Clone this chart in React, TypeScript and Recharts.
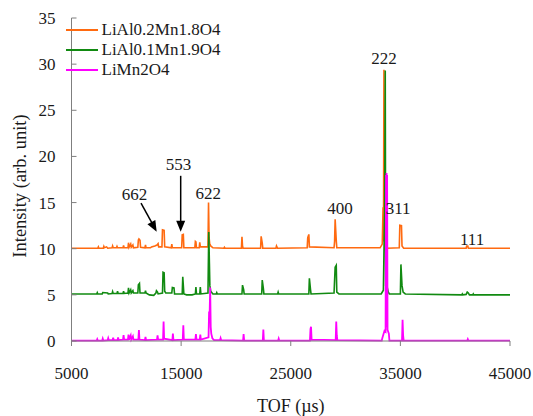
import React from "react";
import {
  LineChart,
  Line,
  XAxis,
  YAxis,
  Legend,
  ReferenceDot,
  ReferenceLine,
  Label,
} from "recharts";

const FONT = "Liberation Serif, Tinos, DejaVu Serif, serif";

const xTicks = [5000, 15000, 25000, 35000, 45000];
const yTicks = [0, 5, 10, 15, 20, 25, 30, 35];

// TOF (µs), intensity, offsets already included
const alPoint2: [number, number][] = [
  [5000, 10.05], [7000, 10.05],
  [7400, 10.05], [7450, 10.2], [7500, 10.05],
  [7900, 10.05], [7950, 10.25], [8000, 10.1], [8200, 10.2], [8300, 10.05],
  [8700, 10.1], [8750, 10.3], [8800, 10.1],
  [9100, 10.1], [9150, 10.25], [9200, 10.1],
  [9700, 10.1], [9750, 10.35], [9800, 10.1],
  [10150, 10.1], [10200, 10.65], [10250, 10.15], [10400, 10.5], [10450, 10.15], [10600, 10.4], [10650, 10.1],
  [11050, 10.15], [11100, 10.95], [11150, 11.05], [11250, 10.9], [11300, 10.15],
  [11700, 10.1], [11750, 10.4], [11800, 10.1],
  [12200, 10.1], [12300, 10.2], [12600, 10.3], [12800, 10.4], [12900, 10.55], [12950, 10.2],
  [13250, 10.2], [13300, 12.05], [13450, 12.0], [13500, 10.2],
  [14100, 10.1], [14150, 10.5], [14200, 10.1],
  [15050, 10.1], [15100, 11.5], [15200, 11.55], [15250, 10.1],
  [16250, 10.1], [16300, 10.8], [16350, 10.75], [16400, 10.1],
  [16650, 10.1], [16700, 10.7], [16750, 10.2],
  [17450, 10.2], [17500, 15.0], [17550, 11.2], [17600, 10.6], [17700, 10.3], [17900, 10.1],
  [18900, 10.05], [18950, 10.15], [19000, 10.05],
  [20500, 10.05], [20550, 11.3], [20600, 10.3], [20650, 10.05],
  [22250, 10.05], [22300, 11.35], [22400, 10.6], [22450, 10.05],
  [23650, 10.05], [23700, 10.3], [23800, 10.05],
  [26500, 10.1], [26550, 11.2], [26650, 11.55], [26700, 10.2],
  [28950, 10.1], [29000, 10.8], [29050, 13.2], [29150, 10.9], [29200, 10.1],
  [33150, 10.1], [33350, 10.5], [33420, 14.5], [33460, 10.8], [33500, 29.4], [33540, 10.8], [33700, 10.3], [33800, 10.05],
  [34900, 10.1], [34950, 12.55], [35100, 12.5], [35150, 10.3], [35300, 10.05],
  [41000, 10.05], [41050, 10.3], [41150, 10.3], [41200, 10.05],
  [45000, 10.05],
];

const alPoint1: [number, number][] = [
  [5000, 5.1], [7300, 5.1], [7350, 5.25], [7400, 5.1], [7800, 5.1], [7850, 5.25], [8300, 5.2], [8350, 5.1],
  [8700, 5.15], [8750, 5.35], [8800, 5.15], [9150, 5.15], [9200, 5.4], [9250, 5.15],
  [9700, 5.15], [9750, 5.4], [9800, 5.15],
  [10150, 5.2], [10200, 5.75], [10250, 5.2], [10400, 5.55], [10450, 5.2], [10600, 5.45], [10650, 5.2],
  [11050, 5.2], [11100, 6.1], [11200, 6.25], [11250, 5.2],
  [11700, 5.2], [11750, 5.45], [11800, 5.2],
  [12100, 5.0], [12500, 4.95], [12700, 5.2], [12750, 5.45], [12850, 5.3], [12900, 5.1],
  [13300, 5.2], [13350, 7.45], [13450, 7.4], [13500, 5.4], [13600, 5.2],
  [14150, 5.2], [14200, 5.8], [14350, 5.75], [14400, 5.1],
  [15100, 5.1], [15150, 6.95], [15250, 5.1],
  [15500, 5.0], [16000, 5.0],
  [16300, 5.1], [16350, 5.85], [16400, 5.1],
  [16700, 5.1], [16750, 5.85], [16800, 5.1],
  [17450, 5.2], [17520, 11.8], [17580, 8.4], [17620, 6.0], [17700, 5.4], [17900, 5.1],
  [18200, 5.1], [18250, 5.25], [18300, 5.1],
  [20550, 5.1], [20600, 6.05], [20700, 5.6], [20750, 5.1],
  [22350, 5.1], [22400, 6.6], [22500, 5.7], [22550, 5.1],
  [23800, 5.1], [23850, 5.3], [23900, 5.1],
  [26650, 5.1], [26700, 6.8], [26800, 5.6], [26850, 5.1],
  [28950, 5.2], [29050, 8.0], [29150, 8.2], [29200, 5.3], [29400, 5.1],
  [33250, 5.1], [33450, 5.5], [33560, 14.0], [33620, 29.3], [33660, 6.0], [33800, 5.8], [33900, 5.3], [34000, 5.1],
  [35000, 5.1], [35050, 8.3], [35150, 6.0], [35250, 5.3], [35450, 5.1],
  [40600, 5.0], [40650, 5.1], [40700, 5.0], [41000, 5.05], [41100, 5.3], [41200, 5.2], [41300, 5.0],
  [41600, 5.0], [41650, 5.1], [41700, 5.0],
  [45000, 5.0],
];

const mn2: [number, number][] = [
  [5000, 0.05], [7300, 0.05], [7350, 0.2], [7400, 0.05], [7800, 0.05], [7850, 0.25], [7900, 0.05],
  [8300, 0.1], [8350, 0.3], [8400, 0.1], [8750, 0.1], [8800, 0.35], [8850, 0.1],
  [9200, 0.1], [9250, 0.4], [9300, 0.1],
  [9700, 0.15], [9750, 0.65], [9800, 0.15],
  [10150, 0.15], [10200, 0.7], [10250, 0.15], [10400, 0.6], [10450, 0.15], [10600, 0.5], [10650, 0.15],
  [11100, 0.15], [11150, 1.2], [11200, 0.15],
  [11700, 0.1], [11750, 0.45], [11800, 0.1],
  [12800, 0.15], [12850, 0.6], [12900, 0.15],
  [13350, 0.15], [13400, 2.1], [13450, 0.25],
  [14200, 0.1], [14250, 0.8], [14300, 0.1],
  [15150, 0.15], [15200, 1.7], [15250, 0.15],
  [16300, 0.15], [16350, 0.75], [16400, 0.15],
  [16700, 0.15], [16750, 0.7], [16800, 0.15],
  [17500, 0.4], [17550, 3.2], [17600, 3.0], [17650, 5.8], [17700, 1.5], [17750, 0.8], [17850, 0.3], [18000, 0.1],
  [18550, 0.1], [18600, 0.3], [18650, 0.1],
  [20650, 0.05], [20700, 0.75], [20750, 0.05],
  [22450, 0.05], [22500, 1.25], [22550, 0.05],
  [23850, 0.05], [23900, 0.25], [23950, 0.05],
  [26750, 0.05], [26800, 1.3], [26850, 1.55], [26900, 0.15],
  [29100, 0.1], [29150, 2.1], [29200, 0.6], [29250, 0.1],
  [33300, 0.05], [33350, 0.3], [33550, 1.1], [33650, 1.0],
  [33690, 18.0], [33720, 1.5], [33740, 18.2], [33770, 1.5], [33790, 18.0], [33830, 1.2],
  [33950, 0.8], [34000, 0.05],
  [35150, 0.05], [35200, 2.3], [35250, 0.6], [35300, 0.05],
  [41100, 0.05], [41150, 0.2], [41200, 0.05],
  [45000, 0.05],
];

const peakLabels: { t: number; v: number; text: string }[] = [
  { t: 10740, v: 15.97, text: "662" },
  { t: 14770, v: 19.2, text: "553" },
  { t: 17470, v: 16.05, text: "622" },
  { t: 29500, v: 14.44, text: "400" },
  { t: 33510, v: 30.64, text: "222" },
  { t: 34790, v: 14.44, text: "311" },
  { t: 41540, v: 11.07, text: "111" },
];

const toRows = (pts: [number, number][]) => pts.map(([t, v]) => ({ t, v }));

const series = [
  { name: "LiAl0.2Mn1.8O4", color: "#ff6a10", width: 1.6, data: toRows(alPoint2) },
  { name: "LiAl0.1Mn1.9O4", color: "#118a11", width: 1.6, data: toRows(alPoint1) },
  { name: "LiMn2O4", color: "#ff00ff", width: 1.8, data: toRows(mn2) },
];

const YTick = (props: any) => {
  const { x, y, payload } = props;
  return (
    <g>
      <line x1={x + 16} x2={x + 21} y1={y} y2={y} stroke="#7f7f7f" />
      <text x={x} y={y} dy="0.35em" textAnchor="end" fill="#1a1a1a" fontSize={17} style={{ fontFamily: FONT }}>
        {payload.value}
      </text>
    </g>
  );
};

const LegendBox = () => (
  <div style={{ fontFamily: FONT, fontSize: 17, color: "#1a1a1a" }}>
    {series.map((s) => (
      <div key={s.name} style={{ display: "flex", alignItems: "center", height: 20.2 }}>
        <span style={{ display: "inline-block", width: 32, height: 2, background: s.color, marginRight: 3.5 }} />
        <span>{s.name}</span>
      </div>
    ))}
  </div>
);

const arrowHead = (angle: number) => (p: any) => (
  <polygon
    points="0,0 -11,-4.5 -11,4.5"
    fill="#000"
    transform={`translate(${p.cx},${p.cy}) rotate(${angle})`}
  />
);

export default function App() {
  return (
    <div style={{ position: "absolute", left: 0, top: 0, width: 533, height: 416, background: "#fff", fontFamily: FONT }}>
      <LineChart width={533} height={416} margin={{ top: 18, right: 23, bottom: 30, left: 11.5 }}>
        <XAxis
          dataKey="t"
          type="number"
          domain={[5000, 45000]}
          ticks={xTicks}
          allowDataOverflow
          height={45}
          stroke="#7f7f7f"
          tickSize={5}
          tickMargin={21}
          tick={{ fill: "#1a1a1a", fontSize: 17, style: { fontFamily: FONT } }}
        >
          <Label value="TOF (µs)" position="bottom" offset={13} fill="#1a1a1a" fontSize={18} style={{ fontFamily: FONT }} />
        </XAxis>
        <YAxis
          type="number"
          domain={[0, 35]}
          ticks={yTicks}
          width={60}
          stroke="#7f7f7f"
          tickLine={false}
          tickSize={0}
          tickMargin={16}
          tick={YTick}
        >
          <Label
            content={(p: any) => {
              const vb = p.viewBox;
              const cx = vb.x + 8.5;
              const cy = vb.y + vb.height / 2 + 6.5;
              return (
                <text
                  x={cx}
                  y={cy}
                  dy="0.35em"
                  textAnchor="middle"
                  transform={`rotate(-90, ${cx}, ${cy})`}
                  fill="#1a1a1a"
                  fontSize={18.5}
                  style={{ fontFamily: FONT }}
                >
                  Intensity (arb. unit)
                </text>
              );
            }}
          />
        </YAxis>
        <Legend
          layout="vertical"
          align="center"
          verticalAlign="middle"
          content={() => <LegendBox />}
          wrapperStyle={{ top: 19.6, left: 66, width: "auto" }}
        />
        {peakLabels.map((l) => (
          <ReferenceDot
            key={l.text}
            x={l.t}
            y={l.v}
            r={0}
            shape={(p: any) => (
              <text x={p.cx} y={p.cy} dy="0.35em" textAnchor="middle" fill="#1a1a1a" fontSize={17} style={{ fontFamily: FONT }}>
                {l.text}
              </text>
            )}
          />
        ))}
        <ReferenceLine segment={[{ x: 11340, y: 14.95 }, { x: 12510, y: 12.43 }]} stroke="#000" strokeWidth={1.5} />
        <ReferenceDot x={12770} y={11.83} r={0} shape={arrowHead(61.3)} />
        <ReferenceLine segment={[{ x: 14960, y: 17.9 }, { x: 14960, y: 12.5 }]} stroke="#000" strokeWidth={1.5} />
        <ReferenceDot x={14960} y={11.83} r={0} shape={arrowHead(90)} />
        {series.map((s) => (
          <Line
            key={s.name}
            data={s.data}
            dataKey="v"
            name={s.name}
            type="linear"
            stroke={s.color}
            strokeWidth={s.width}
            dot={false}
            activeDot={false}
            isAnimationActive={false}
          />
        ))}
      </LineChart>
    </div>
  );
}
